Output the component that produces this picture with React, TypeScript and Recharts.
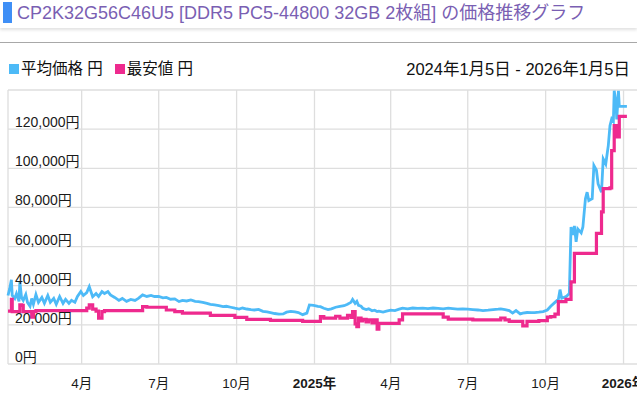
import React from "react";
import { LineChart, Line, XAxis, YAxis, CartesianGrid } from "recharts";

// days since 2024-01-05
const DAYS = [
  0, 2, 4, 5, 8, 10, 13, 14, 16, 18, 21, 23, 26, 28, 30, 33, 36, 40, 43, 47,
  50, 54, 57, 61, 65, 68, 72, 75, 79, 82, 86, 89, 93, 96, 100, 104, 107, 111,
  114, 118, 121, 126, 131, 135, 140, 145, 150, 154, 159, 164, 169, 173, 178,
  183, 187, 192, 197, 202, 206, 211, 216, 221, 225, 230, 235, 239, 244, 249,
  254, 258, 263, 268, 273, 277, 282, 287, 291, 296, 301, 306, 310, 315, 320,
  325, 329, 334, 339, 343, 348, 353, 356, 361, 366, 369, 373, 378, 382, 387,
  392, 397, 401, 405, 407, 410, 412, 414, 417, 419, 423, 426, 430, 433, 436,
  438, 443, 447, 452, 457, 462, 466, 472, 478, 484, 490, 496, 502, 508, 514,
  520, 525, 531, 537, 543, 549, 555, 561, 567, 573, 579, 582, 587, 592, 596,
  600, 605, 608, 613, 618, 622, 627, 632, 637, 641, 646, 650, 652, 654, 659,
  663, 665, 667, 669, 671, 673, 677, 679, 682, 684, 686, 690, 692, 695, 697,
  701, 703, 706, 709, 711, 713, 715, 716, 718, 719, 721, 722, 723, 731,
];

// 平均価格 (円)
const AVG_PRICE = [
  35000, 38500, 43000, 35000, 33500, 36000, 32000, 42000, 34000, 32500, 35500,
  31500, 29500, 33500, 30500, 35500, 31500, 34000, 31000, 35000, 31500, 33500,
  30500, 34500, 31000, 33000, 31000, 32500, 31500, 34500, 37000, 35000, 36500,
  39500, 34400, 36000, 34500, 37000, 36000, 37000, 35300, 34000, 32500, 33500,
  32000, 33000, 32500, 33500, 35300, 34500, 35000, 34500, 34500, 33800, 34000,
  33100, 33300, 31900, 32500, 32200, 32700, 32000, 31900, 31500, 31000, 30500,
  30200, 29800, 29300, 29500, 29000, 28500, 28100, 28600, 28100, 27800, 27600,
  27900, 26900, 26600, 26300, 25800, 25500, 25600, 26500, 26900, 26600, 26300,
  25200, 26000, 30200, 30000, 29500, 29300, 28500, 27800, 28200, 29000, 29500,
  29800, 30500, 31500, 33000, 31000, 32000, 30000, 29500, 28500, 27800, 28200,
  27200, 27500, 26800, 27000, 26500, 27000, 27500, 27300, 28000, 28500, 28200,
  28600, 28400, 28500, 28300, 28600, 28400, 28200, 28500, 28300, 28000, 28200,
  28000, 27800, 27600, 27300, 27500, 27800, 28000, 28200, 27800, 27300, 26000,
  27300, 25600, 26000, 26300, 26200, 26300, 26500, 26800, 27600, 29500, 31500,
  33000, 38000, 33600, 34400, 36000, 70000, 66000, 70500, 62400, 69000, 67000,
  70000, 84500, 87800, 83500, 84500, 101400, 99000, 92000, 87800, 104800,
  102200, 111600, 121800, 125200, 124000, 139600, 133700, 125000, 139600,
  131600, 131600, 131600,
];

// 最安値 (円)
const MIN_PRICE = [
  27000, 27000, 33000, 26800, 26800, 26800, 26800, 30200, 30000, 26800, 26800,
  26800, 26800, 24000, 26800, 27300, 27300, 27300, 27300, 27300, 27300, 27300,
  27300, 27300, 27300, 27300, 27300, 27300, 27300, 27300, 27300, 27300, 28500,
  30200, 28000, 27000, 23400, 26800, 27300, 27300, 27300, 27300, 27300, 27300,
  27300, 27300, 27300, 27300, 29300, 29000, 29000, 29000, 29000, 29000, 27600,
  27600, 26800, 26800, 26000, 26000, 26000, 26000, 26000, 26000, 26000, 24800,
  24800, 24800, 24800, 24800, 24800, 23800, 23800, 23800, 22800, 22800, 22800,
  22800, 22800, 22800, 22300, 22300, 22300, 22300, 22300, 22300, 22300, 22300,
  21800, 21800, 21800, 21800, 21800, 24200, 23400, 23400, 23400, 24400, 23400,
  23400, 24800, 23800, 26800, 20500, 19100, 23500, 22000, 22800, 21500, 22500,
  21000, 22500, 17800, 20800, 20800, 20800, 20800, 20800, 22500, 25600, 25600,
  25600, 25600, 25600, 25600, 25600, 25600, 24000, 22900, 22900, 22900, 22900,
  22900, 22500, 22500, 22500, 22500, 22500, 22500, 23500, 22500, 21800, 21800,
  21800, 21800, 19500, 21800, 21800, 21800, 22200, 22200, 24000, 24200, 25500,
  31900, 31900, 31900, 33000, 33000, 42000, 42000, 56500, 56500, 56500, 56500,
  56500, 56500, 56500, 56500, 56500, 56500, 66700, 66700, 77700, 89600, 89600,
  89600, 90000, 109000, 109000, 121800, 121800, 116000, 116000, 126500, 126500,
  126500,
];

const Y_TICKS = [0, 20000, 40000, 60000, 80000, 100000, 120000, 140000];
const X_TICK_DAYS = [87, 178, 270, 362, 452, 543, 635, 727];
const X_TICK_LABELS = ["4月", "7月", "10月", "2025年", "4月", "7月", "10月", "2026年"];

const TITLE = "CP2K32G56C46U5 [DDR5 PC5-44800 32GB 2枚組] の価格推移グラフ";
const DATE_RANGE = "2024年1月5日 - 2026年1月5日";

const AVG_COLOR = "#4dbaf7";
const MIN_COLOR = "#ee2a8e";
const FONT = '"Liberation Sans", "Noto Sans CJK JP", sans-serif';

const rows = DAYS.map((day, i) => ({
  day,
  avg: AVG_PRICE[i],
  min: MIN_PRICE[i],
}));

function YTick({ y, payload }: any) {
  // top line carries no label
  if (payload.value === 140000) return <g />;
  return (
    <text x={15} y={y - 2} fontSize={14} fill="#1a1a1a" textAnchor="start" fontFamily={FONT}>
      {payload.value.toLocaleString("en-US")}円
    </text>
  );
}

function XTick({ x, y, payload }: any) {
  const label = X_TICK_LABELS[X_TICK_DAYS.indexOf(payload.value)];
  const isYear = label.endsWith("年");
  return (
    <text
      x={x}
      y={y + 16}
      fontSize={13.5}
      fill="#1a1a1a"
      textAnchor="middle"
      fontWeight={isYear ? 700 : 400}
      fontFamily={FONT}
    >
      {label}
    </text>
  );
}

function LegendItem({ color, label }: { color: string; label: string }) {
  return (
    <span style={{ display: "inline-flex", alignItems: "center", marginRight: 12 }}>
      <span style={{ width: 10, height: 10, background: color, display: "inline-block", marginRight: 2 }} />
      {label}
    </span>
  );
}

export default function App() {
  return (
    <div
      style={{
        position: "absolute",
        left: 0,
        top: 0,
        width: 637,
        height: 399,
        overflow: "hidden",
        background: "#fff",
        fontFamily: FONT,
      }}
    >
      {/* title */}
      <div
        style={{
          position: "absolute",
          left: 0,
          top: 0,
          width: 637,
          height: 28,
          background: "#fff",
          boxShadow: "0 2px 3px rgba(0,0,0,0.12)",
        }}
      >
        <span style={{ position: "absolute", left: 3, top: 2, width: 9, height: 21, background: "#3f8ff6" }} />
        <span
          style={{
            position: "absolute",
            left: 17,
            top: 2,
            fontSize: 18,
            lineHeight: "22px",
            color: "#7a5fb3",
            whiteSpace: "nowrap",
          }}
        >
          {TITLE}
        </span>
      </div>
      <div style={{ position: "absolute", left: 0, top: 42, width: 637, height: 1, background: "#a8a8a8" }} />

      {/* legend + period */}
      <div
        style={{
          position: "absolute",
          left: 9,
          top: 59,
          fontSize: 15.5,
          lineHeight: "20px",
          color: "#111",
          display: "flex",
        }}
      >
        <LegendItem color={AVG_COLOR} label="平均価格 円" />
        <LegendItem color={MIN_COLOR} label="最安値 円" />
      </div>
      <div
        style={{
          position: "absolute",
          right: 7,
          top: 59,
          fontSize: 16.5,
          lineHeight: "20px",
          color: "#111",
          whiteSpace: "nowrap",
        }}
      >
        {DATE_RANGE}
      </div>

      <div style={{ position: "absolute", left: 0, top: 80 }}>
        <LineChart
          width={660}
          height={319}
          data={rows}
          margin={{ top: 10, right: 17, left: 8, bottom: 0 }}
        >
          <CartesianGrid stroke="#dedede" strokeWidth={1.3} />
          <XAxis
            dataKey="day"
            type="number"
            domain={[0, 750]}
            ticks={X_TICK_DAYS}
            interval={0}
            axisLine={false}
            tickLine={false}
            height={35}
            tick={<XTick />}
          />
          <YAxis
            type="number"
            domain={[0, 140000]}
            ticks={Y_TICKS}
            interval={0}
            width={70}
            mirror
            axisLine={false}
            tickLine={false}
            tick={<YTick />}
          />
          <Line
            dataKey="avg"
            type="linear"
            stroke={AVG_COLOR}
            strokeWidth={2.8}
            dot={false}
            isAnimationActive={false}
          />
          <Line
            dataKey="min"
            type="stepAfter"
            stroke={MIN_COLOR}
            strokeWidth={3.2}
            dot={false}
            isAnimationActive={false}
          />
        </LineChart>
      </div>
    </div>
  );
}
